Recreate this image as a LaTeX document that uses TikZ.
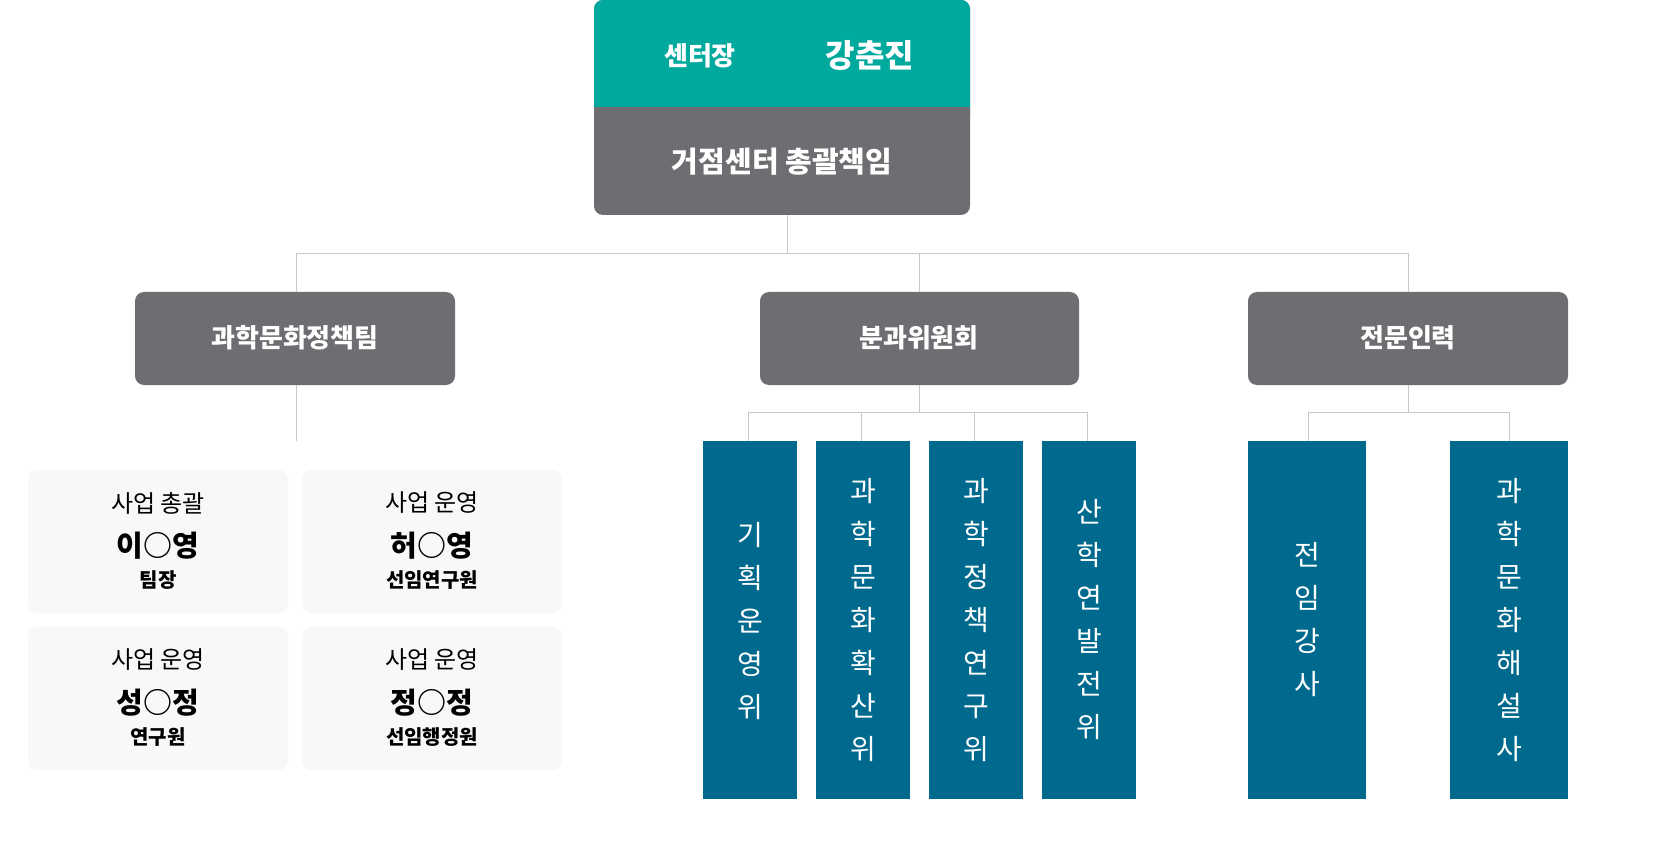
\documentclass[tikz,border=0pt]{standalone}
\usepackage{fontspec}
\setmainfont{Noto Sans CJK KR}
\usetikzlibrary{positioning}
\definecolor{headteal}{HTML}{00A99D}
\definecolor{boxgray}{HTML}{6D6E71}
\definecolor{barblue}{HTML}{006A8E}
\definecolor{cardgray}{HTML}{F8F8F8}
\definecolor{wire}{HTML}{C8C8C8}

\begin{document}
\begin{tikzpicture}[x=1pt,y=-1pt,
  headbox/.style={fill=boxgray,rounded corners=9pt},
  headtext/.style={text=white,font=\fontsize{26}{30}\selectfont\bfseries},
  bar/.style={text=white,align=center,font=\fontsize{28}{43}\selectfont},
  card/.style={fill=cardgray,rounded corners=9pt},
  wires/.style={draw=wire,line width=1pt}]

\useasboundingbox (0,0) rectangle (1668,850);

% top
\fill[boxgray,rounded corners=9pt] (594,0) rectangle (970,215);
\fill[headteal,rounded corners=9pt] (594,0) rectangle (970,125);
\fill[boxgray] (594,107) rectangle (970,130);
\coordinate (top) at (787,215);
\node[headtext] (title) at (700,56) {센터장};
\node[headtext,font=\fontsize{32}{36}\selectfont\bfseries] (name) at (870,56) {강춘진};
\node[headtext,font=\fontsize{29}{32}\selectfont\bfseries] (chief) at (782,162) {거점센터 총괄책임};

% second level
\path[headbox] (135,292) rectangle (455,385);
\path[headbox] (760,292) rectangle (1079,385);
\path[headbox] (1248,292) rectangle (1568,385);
\node[headtext] (team) at (295,338) {과학문화정책팀};
\node[headtext] (comm) at (919,338) {분과위원회};
\node[headtext] (expert) at (1408,338) {전문인력};

\draw[wires] (top) -- (787,254);
\draw[wires] (296,292) |- (1408,254) -- (1408,292);
\draw[wires] (919,254) -- (919,292);
\draw[wires] (296,385) -- (296,441);
\draw[wires] (919,385) -- (919,412);
\draw[wires] (748,441) |- (1087,412) -- (1087,441);
\draw[wires] (861,412) -- (861,441);
\draw[wires] (974,412) -- (974,441);
\draw[wires] (1408,385) -- (1408,412);
\draw[wires] (1308,441) |- (1509,412) -- (1509,441);

% cards
\foreach \x/\y/\role/\who/\rank in {28/470/사업 총괄/이○영/팀장, 302/470/사업 운영/허○영/선임연구원,
  28/627/사업 운영/성○정/연구원, 302/627/사업 운영/정○정/선임행정원}{
  \path[card] (\x,\y) rectangle ++(260,143);
  \node[font=\fontsize{24}{28}\selectfont] at (\x+130,\y+33) {\role};
  \node[font=\fontsize{29}{32}\selectfont\bfseries] at (\x+130,\y+76) {\who};
  \node[font=\fontsize{20}{24}\selectfont\bfseries] at (\x+130,\y+110) {\rank};
}

% bars
\fill[barblue] (703,441) rectangle (797,799);
\fill[barblue] (816,441) rectangle (910,799);
\fill[barblue] (929,441) rectangle (1023,799);
\fill[barblue] (1042,441) rectangle (1136,799);
\fill[barblue] (1248,441) rectangle (1366,799);
\fill[barblue] (1450,441) rectangle (1568,799);
\node[bar] (b1) at (750,621) {기\\획\\운\\영\\위};
\node[bar] (b2) at (863,620) {과\\학\\문\\화\\확\\산\\위};
\node[bar] (b3) at (976,620) {과\\학\\정\\책\\연\\구\\위};
\node[bar] (b4) at (1089,620) {산\\학\\연\\발\\전\\위};
\node[bar] (b5) at (1307,620) {전\\임\\강\\사};
\node[bar] (b6) at (1509,620) {과\\학\\문\\화\\해\\설\\사};

\end{tikzpicture}
\end{document}
